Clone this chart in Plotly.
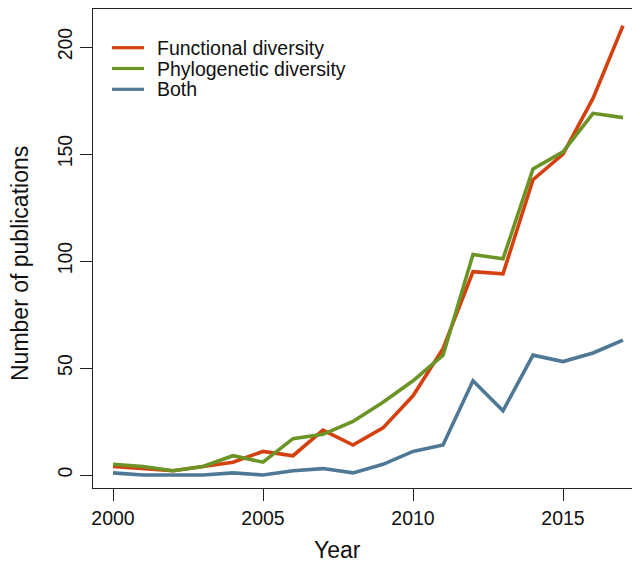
import plotly.graph_objects as go

years = list(range(2000, 2018))
functional = [4, 3, 2, 4, 6, 11, 9, 21, 14, 22, 37, 59, 95, 94, 138, 150, 176, 210]
phylogenetic = [5, 4, 2, 4, 9, 6, 17, 19, 25, 34, 44, 56, 103, 101, 143, 151, 169, 167]
both = [1, 0, 0, 0, 1, 0, 2, 3, 1, 5, 11, 14, 44, 30, 56, 53, 57, 63]

series_names = ["Functional diversity", "Phylogenetic diversity", "Both"]
series_values = [functional, phylogenetic, both]
colors = ["#D4400E", "#6B9326", "#4E7895"]

x_ticks = [2000, 2005, 2010, 2015]
y_ticks = [0, 50, 100, 150, 200]

# page body has an 8px default margin: work in screen pixels, shift by OFF
OFF = 8
SW, SH = 640, 563
W, H = SW - OFF, SH - OFF
PL, PT, PB, PR = 93, 9, 488, 640  # plot box in screen pixels
L, T = PL - OFF, PT - OFF
B = H - (PB - OFF)
R = W - (PR - OFF)
FONT = "Liberation Sans, Arial, Helvetica, sans-serif"

fig = go.Figure()
for name, vals, col in zip(series_names, series_values, colors):
    fig.add_trace(go.Scatter(x=years, y=vals, mode="lines", name=name,
                             line=dict(color=col, width=3.6), showlegend=False))

pw = PR - PL
ph = PB - PT
def px_x(px):
    return (px - PL) / pw
def px_y(py):
    return (PB - py) / ph

# manual legend (matches R's compact legend spacing)
leg_y = [47.7, 68.5, 89.3]
for name, col, yy in zip(series_names, colors, leg_y):
    fig.add_shape(type="line", xref="paper", yref="paper",
                  x0=px_x(112), x1=px_x(144), y0=px_y(yy), y1=px_y(yy),
                  line=dict(color=col, width=3.2))
    fig.add_annotation(xref="paper", yref="paper", x=px_x(155), y=px_y(yy),
                       text=name, showarrow=False, xanchor="left", yanchor="middle",
                       font=dict(size=19.5, color="#111", family=FONT))

fig.add_annotation(xref="paper", yref="paper", x=px_x(337), y=px_y(550),
                   text="Year", showarrow=False, xanchor="center", yanchor="middle",
                   font=dict(size=23, color="#111", family=FONT))
fig.add_annotation(xref="paper", yref="paper", x=px_x(20), y=px_y(264),
                   text="Number of publications", showarrow=False, textangle=-90,
                   xanchor="center", yanchor="middle",
                   font=dict(size=23, color="#111", family=FONT))

x0 = 2000 - (113 - PL) / 30.0
x1 = 2000 + (PR - 113) / 30.0
ypx = 2.14
y0 = -(PB - 475) / ypx
y1 = (475 - PT) / ypx

fig.update_layout(
    width=W, height=H,
    margin=dict(l=L, r=R, t=T, b=B, pad=0),
    paper_bgcolor="white", plot_bgcolor="white",
    font=dict(family=FONT, size=19.5, color="#111"),
    xaxis=dict(range=[x0, x1], tickvals=x_ticks, ticktext=[str(v) for v in x_ticks],
               ticks="outside", ticklen=12, tickwidth=1.3, tickcolor="#222",
               showline=True, linecolor="#222", linewidth=1.3, mirror=True,
               showgrid=False, zeroline=False),
    yaxis=dict(range=[y0, y1], tickvals=y_ticks, ticktext=[str(v) for v in y_ticks],
               ticks="outside", ticklen=12, tickwidth=1.3, tickcolor="#222",
               tickangle=-90,
               showline=True, linecolor="#222", linewidth=1.3, mirror=False,
               showgrid=False, zeroline=False),
)

fig.write_html("out.html")
